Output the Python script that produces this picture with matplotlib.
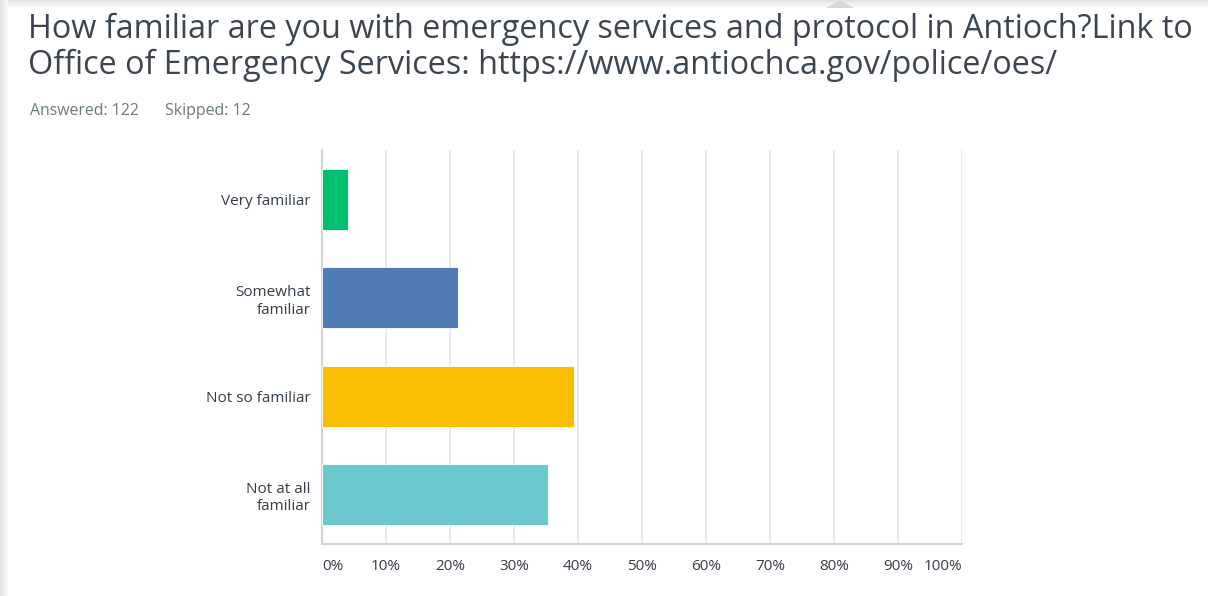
"""Horizontal bar summary for one survey question (share of respondents per answer)."""
import matplotlib

matplotlib.use("Agg")
import matplotlib.pyplot as plt
from matplotlib.patches import Rectangle, Polygon

TITLE_LINES = [
    "How familiar are you with emergency services and protocol in Antioch?Link to",
    "Office of Emergency Services: https://www.antiochca.gov/police/oes/",
]
ANSWERED = 122
SKIPPED = 12

CHOICES = ["Very familiar", "Somewhat\nfamiliar", "Not so familiar", "Not at all\nfamiliar"]
PERCENT = [4.10, 21.31, 39.34, 35.25]
COLORS = ["#00bf6f", "#507cb6", "#f9be00", "#6bc8cd"]
XTICKS = [0, 10, 20, 30, 40, 50, 60, 70, 80, 90, 100]

TEXT = "#333e48"
TITLE = "#3b4650"
SUBTLE = "#6b787f"
GRID = "#e6e6e6"
AXIS = "#d3d3d3"

W, H = 1208, 596
plt.rcParams["font.family"] = ["Open Sans", "DejaVu Sans"]

fig = plt.figure(figsize=(W / 100, H / 100), dpi=100)
fig.patch.set_facecolor("white")

# page chrome: grey strip along top edge, shadow on the left, small pointer
for i, c in enumerate(["#e4e4e4", "#e8e8e8", "#ebebeb", "#eeeeee", "#f1f1f1", "#f4f4f4", "#f7f7f7"]):
    fig.patches.append(Rectangle((0, 1 - (i + 1) / H), 1, 1 / H, transform=fig.transFigure,
                                 facecolor=c, edgecolor="none", zorder=0))
for i, c in enumerate(["#e2e2e2", "#e6e6e6", "#e9e9e9", "#ececec", "#efefef", "#f2f2f2", "#f5f5f5", "#f9f9f9"]):
    fig.patches.append(Rectangle((i / W, 0), 1 / W, 1, transform=fig.transFigure,
                                 facecolor=c, edgecolor="none", zorder=0))
fig.patches.append(Polygon([(826 / W, 1 - 8 / H), (840 / W, 1.0), (854 / W, 1 - 8 / H)],
                           closed=True, transform=fig.transFigure,
                           facecolor="#d9d9d9", edgecolor="none", zorder=1))

# question title, sized so the first line runs across the page width
renderer = fig.canvas.get_renderer()
title_size = 20
t0 = fig.text(28 / W, 1 - 38 / H, TITLE_LINES[0], fontsize=title_size, color=TITLE,
              ha="left", va="baseline")
span = t0.get_window_extent(renderer).width
title_size *= 1165 / span
t0.set_fontsize(title_size)
fig.text(28 / W, 1 - 74 / H, TITLE_LINES[1], fontsize=title_size, color=TITLE,
         ha="left", va="baseline")
fig.text(30 / W, 1 - 111 / H, f"Answered: {ANSWERED}",
         fontsize=11.4, color=SUBTLE, ha="left", va="center")
fig.text(165 / W, 1 - 111 / H, f"Skipped: {SKIPPED}",
         fontsize=11.4, color=SUBTLE, ha="left", va="center")

ax = fig.add_axes([322 / W, 1 - 544 / H, 640 / W, 394 / H])
ypos = list(range(len(CHOICES)))
ax.barh(ypos, PERCENT, height=0.62, color=COLORS, edgecolor="white", linewidth=0.6, zorder=3)
ax.set_xlim(0, 100)
ax.set_ylim(len(CHOICES) - 0.5, -0.5)

ax.set_xticks(XTICKS)
ax.set_xticklabels([f"{t}%" for t in XTICKS])
ax.set_yticks(ypos)
ax.set_yticklabels(CHOICES, multialignment="right", linespacing=1.25)
ax.tick_params(axis="x", length=0, pad=11, labelsize=11, labelcolor=TEXT)
ax.tick_params(axis="y", length=0, pad=8, labelsize=11, labelcolor=TEXT)
labels = ax.get_xticklabels()
labels[0].set_ha("left")
labels[-1].set_ha("right")

ax.grid(axis="x", color=GRID, linewidth=1.2, zorder=0)
ax.set_axisbelow(True)
for side in ("top", "right"):
    ax.spines[side].set_visible(False)
for side in ("left", "bottom"):
    ax.spines[side].set_color(AXIS)
    ax.spines[side].set_linewidth(1.5)

fig.savefig("out.png", dpi=100)
